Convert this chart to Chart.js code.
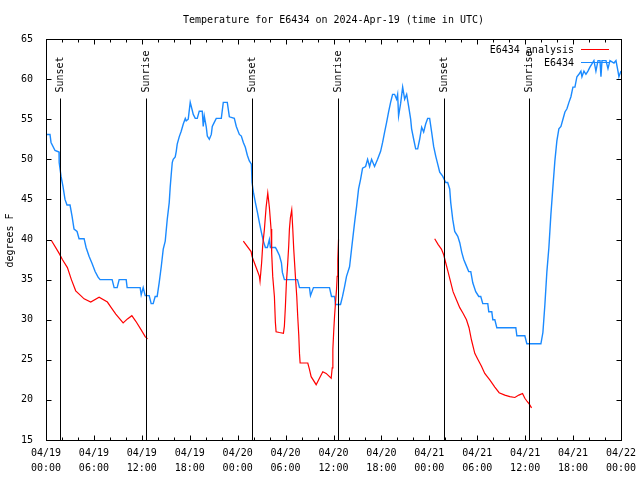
<!DOCTYPE html>
<html>
<head>
<meta charset="utf-8">
<title>Temperature for E6434</title>
<script src="https://cdn.jsdelivr.net/npm/chart.js@4.4.1/dist/chart.umd.min.js"></script>
<style>
  html, body { margin: 0; padding: 0; background: #fff; }
</style>
</head>
<body>
<canvas id="tempChart" width="640" height="480"></canvas>
<script>
const chartTitle = 'Temperature for E6434 on 2024-Apr-19 (time in UTC)';
const yAxisLabel = 'degrees F';
const dayLabels = ['04/19', '04/20', '04/21', '04/22'];
const legendNames = ['E6434 analysis', 'E6434'];

// hours since 04/19 00:00 UTC
const eventHours = [1.75, 12.52, 25.80, 36.56, 49.84, 60.48];
const eventNames = ['Sunset', 'Sunrise', 'Sunset', 'Sunrise', 'Sunset', 'Sunrise'];

// analysis (red), null = gap between runs
const analysisHours = [0.66, 1.63, 2.05, 2.68, 3.18, 3.72, 4.35, 4.77, 5.60, 6.65, 7.69, 8.10, 8.74, 9.66, 10.20, 10.75, 11.25, 11.88, 12.42, 12.71,
  18.0,
  24.71, 25.68, 25.80, 26.09, 26.50, 26.72, 26.80, 27.00, 27.13, 27.35, 27.56, 27.77, 27.97, 28.18, 28.26, 28.39, 28.60, 28.72, 28.81, 29.23,
  29.73, 29.85, 29.98, 30.10, 30.27, 30.39, 30.48, 30.60, 30.77, 30.90, 31.02, 31.23, 31.40, 31.52, 31.65, 31.74, 31.82, 32.78, 32.99, 33.20,
  33.83, 34.24, 34.66, 35.08, 35.71, 35.84, 35.92, 36.04, 36.13, 36.25, 36.38, 36.46, 36.54, 36.63,
  42.0,
  48.67, 49.09, 49.51, 49.80, 50.05, 50.34, 50.64, 50.97, 51.39, 51.81, 52.22, 52.65, 52.97, 53.27, 53.69, 54.10, 54.53, 54.94, 55.57, 56.20,
  56.74, 57.45, 58.08, 58.71, 59.21, 59.67, 59.96, 60.25, 60.50, 60.80];
const analysisTemps = [39.9, 38.3, 37.5, 36.5, 35.0, 33.6, 33.0, 32.6, 32.2, 32.8, 32.2, 31.6, 30.7, 29.6, 30.1, 30.5, 29.8, 28.8, 27.9, 27.6,
  null,
  39.8, 38.5, 37.9, 37.1, 36.0, 35.4, 34.8, 37.1, 39.2, 41.3, 44.0, 45.8, 44.0, 41.3, 38.3, 35.4, 32.9, 29.7, 28.5, 28.4,
  28.3, 29.2, 31.7, 34.6, 37.1, 39.2, 41.3, 42.7, 43.7, 41.3, 38.8, 35.4, 32.9, 30.4, 28.1, 25.8, 24.6, 24.6, 23.8, 22.9,
  21.9, 22.7, 23.5, 23.3, 22.7, 24.0, 26.3, 28.8, 30.4, 32.1, 33.8, 35.4, 37.5, 40.0,
  null,
  40.1, 39.4, 38.8, 38.1, 37.1, 36.0, 34.8, 33.5, 32.5, 31.5, 30.8, 30.0, 29.0, 27.5, 25.8, 25.0, 24.2, 23.3, 22.5, 21.6,
  20.9, 20.6, 20.4, 20.3, 20.6, 20.8, 20.2, 19.8, 19.5, 19.0];

// station observations (blue)
const stationHours = [0.00, 0.50, 0.63, 1.13, 1.63, 1.65, 1.88, 2.13, 2.38, 2.63, 3.01, 3.26, 3.51, 3.89, 4.14, 4.77, 5.02, 5.39, 5.77, 6.15,
  6.52, 6.77, 8.28, 8.53, 8.91, 9.16, 10.04, 10.16, 11.79, 11.92, 12.17, 12.42, 12.92, 13.17, 13.42, 13.67, 13.92, 14.17, 14.43, 14.68,
  14.93, 15.18, 15.43, 15.55, 15.68, 15.81, 15.93, 16.18, 16.31, 16.43, 16.68, 16.93, 17.19, 17.44, 17.56, 17.81, 18.06, 18.19, 18.44, 18.69,
  18.94, 19.19, 19.57, 19.69, 19.82, 20.07, 20.20, 20.45, 20.70, 20.82, 21.07, 21.32, 21.95, 22.20, 22.70, 22.96, 23.58, 23.83, 24.21, 24.46,
  24.71, 24.96, 25.21, 25.46, 25.72, 25.80, 25.97, 26.22, 26.47, 26.72, 26.97, 27.22, 27.47, 27.72, 27.97, 28.10, 28.73, 28.85, 29.23, 29.48,
  29.60, 29.85, 31.49, 31.74, 32.99, 33.12, 33.49, 35.50, 35.75, 36.13, 36.25, 36.88, 37.13, 37.38, 37.63, 38.01, 38.26, 38.64, 38.89, 39.14,
  39.39, 39.64, 40.02, 40.27, 40.52, 40.77, 41.14, 41.52, 41.90, 42.15, 42.40, 42.65, 42.90, 43.15, 43.40, 43.65, 43.90, 44.03, 44.15, 44.41,
  44.66, 44.91, 45.16, 45.41, 45.66, 45.78, 46.04, 46.29, 46.54, 46.79, 47.04, 47.29, 47.54, 47.79, 48.04, 48.29, 48.54, 48.80, 49.05, 49.30,
  49.67, 50.05, 50.30, 50.55, 50.68, 50.93, 51.18, 51.56, 51.81, 52.06, 52.31, 52.56, 52.93, 53.19, 53.44, 53.81, 54.19, 54.44, 54.69, 55.32,
  55.44, 55.82, 55.95, 56.20, 56.45, 58.83, 58.96, 59.96, 60.21, 61.97, 62.22, 62.47, 62.72, 62.97, 63.22, 63.47, 63.72, 63.97, 64.22, 64.48,
  64.73, 64.98, 65.23, 65.48, 65.73, 65.98, 66.23, 66.48, 66.73, 66.98, 67.11, 67.36, 67.61, 67.86, 68.11, 68.36, 68.61, 68.86, 69.12, 69.37,
  69.49, 69.62, 70.12, 70.37, 70.62, 71.12, 71.37, 71.62, 71.74, 72.00];
const stationTemps = [53.1, 53.1, 52.1, 51.1, 50.9, 49.6, 47.9, 46.6, 45.0, 44.3, 44.3, 42.9, 41.3, 41.0, 40.1, 40.1, 39.0, 37.9, 37.0, 36.0,
  35.3, 35.0, 35.0, 34.0, 34.0, 35.0, 35.0, 34.0, 34.0, 33.1, 34.0, 33.0, 33.0, 32.0, 32.0, 32.9, 32.9, 34.6, 36.6, 38.8,
  39.8, 42.5, 44.6, 46.5, 48.1, 49.6, 50.0, 50.3, 51.0, 51.9, 52.8, 53.5, 54.4, 55.1, 54.8, 55.0, 57.1, 56.6, 55.6, 55.1,
  55.1, 56.0, 56.0, 54.1, 55.4, 54.0, 52.9, 52.5, 53.1, 54.1, 54.6, 55.1, 55.1, 57.1, 57.1, 55.3, 55.1, 54.1, 53.1, 52.9,
  52.1, 51.5, 50.5, 49.8, 49.4, 47.1, 45.9, 44.6, 43.4, 42.1, 40.9, 39.8, 39.0, 39.0, 40.0, 39.0, 39.0, 38.8, 38.0, 37.1,
  35.9, 35.0, 35.0, 34.0, 34.0, 33.0, 34.0, 34.0, 32.9, 32.9, 31.9, 31.9, 32.9, 34.1, 35.4, 36.6, 38.8, 42.1, 44.1, 46.3,
  47.5, 48.9, 49.1, 50.0, 49.1, 50.0, 49.1, 50.0, 51.0, 52.1, 53.4, 54.6, 55.9, 57.1, 58.1, 58.1, 57.5, 58.1, 55.4, 57.0,
  59.0, 57.5, 58.1, 56.6, 55.0, 53.8, 52.5, 51.3, 51.3, 52.5, 54.0, 53.4, 54.4, 55.1, 55.1, 53.4, 51.6, 50.4, 49.4, 48.4,
  47.9, 47.1, 47.1, 46.3, 44.6, 42.5, 41.0, 40.4, 39.6, 38.4, 37.5, 36.9, 36.0, 36.0, 34.6, 33.5, 32.9, 32.9, 32.0, 32.0,
  31.0, 31.0, 30.0, 30.0, 29.0, 29.0, 28.0, 28.0, 27.0, 27.0, 28.4, 31.9, 36.0, 39.0, 43.1, 46.5, 49.8, 52.3, 53.8, 54.1,
  55.0, 55.9, 56.3, 57.1, 57.8, 59.0, 59.0, 60.3, 60.6, 61.0, 60.3, 61.0, 60.6, 61.0, 61.5, 61.9, 62.3, 61.0, 62.3, 62.3,
  60.3, 62.3, 62.3, 61.3, 62.3, 62.0, 62.3, 61.0, 60.3, 61.0];

const RED = '#ff0000';
const BLUE = '#1a8aff';
const FONT = '10px "DejaVu Sans Mono", "Liberation Mono", monospace';

function toPoints(xs, ys) {
    return xs.map((x, i) => ({ x: x, y: ys[i] }));
}

// gnuplot style frame, ticks, title, legend and sunrise/sunset markers
const gnuplotDecor = {
    id: 'gnuplotDecor',
    afterDatasetsDraw(chart) {
        const ctx = chart.ctx;
        const a = chart.chartArea;
        const xs = chart.scales.x;
        const ys = chart.scales.y;
        const L = Math.round(a.left) + 0.5, R = Math.round(a.right) + 0.5;
        const T = Math.round(a.top) + 0.5, B = Math.round(a.bottom) + 0.5;
        ctx.save();
        ctx.strokeStyle = '#000';
        ctx.fillStyle = '#000';
        ctx.lineWidth = 1;
        ctx.font = FONT;

        // sunrise / sunset lines
        eventHours.forEach((h, i) => {
            const px = Math.round(xs.getPixelForValue(h)) + 0.5;
            ctx.beginPath();
            ctx.moveTo(px, T + 59);
            ctx.lineTo(px, B);
            ctx.stroke();
            ctx.save();
            ctx.translate(px, T + 53);
            ctx.rotate(-Math.PI / 2);
            ctx.textAlign = 'left';
            ctx.textBaseline = 'middle';
            ctx.fillText(eventNames[i], 0, 0);
            ctx.restore();
        });

        // frame
        ctx.strokeRect(L, T, R - L, B - T);

        // x ticks: major every 6 h, minor every 2 h
        ctx.beginPath();
        for (let h = 0; h <= 72; h += 2) {
            const px = Math.round(xs.getPixelForValue(h)) + 0.5;
            const len = h % 6 === 0 ? 5 : 3;
            ctx.moveTo(px, B); ctx.lineTo(px, B - len);
            ctx.moveTo(px, T); ctx.lineTo(px, T + len);
        }
        // y ticks
        for (let v = 15; v <= 65; v += 5) {
            const py = Math.round(ys.getPixelForValue(v)) + 0.5;
            ctx.moveTo(L, py); ctx.lineTo(L + 5, py);
            ctx.moveTo(R, py); ctx.lineTo(R - 5, py);
        }
        ctx.stroke();

        // title
        ctx.textAlign = 'center';
        ctx.textBaseline = 'middle';
        ctx.fillText(chartTitle, (a.left + a.right) / 2, 20);

        // y axis label
        ctx.save();
        ctx.translate(10, (a.top + a.bottom) / 2 + 1);
        ctx.rotate(-Math.PI / 2);
        ctx.fillText(yAxisLabel, 0, 0);
        ctx.restore();

        // legend
        const colors = [RED, BLUE];
        legendNames.forEach((name, i) => {
            const ly = 50 + i * 13;
            ctx.fillStyle = '#000';
            ctx.textAlign = 'right';
            ctx.fillText(name, 574, ly);
            ctx.strokeStyle = colors[i];
            ctx.beginPath();
            ctx.moveTo(581, ly - 0.5);
            ctx.lineTo(609, ly - 0.5);
            ctx.stroke();
        });
        ctx.restore();
    }
};

const ctx = document.getElementById('tempChart');
new Chart(ctx, {
    type: 'line',
    data: {
        datasets: [
            {
                label: legendNames[0],
                data: toPoints(analysisHours, analysisTemps),
                borderColor: RED,
                borderWidth: 1.2,
                pointRadius: 0,
                spanGaps: false,
                tension: 0
            },
            {
                label: legendNames[1],
                data: toPoints(stationHours, stationTemps),
                borderColor: BLUE,
                borderWidth: 1.4,
                pointRadius: 0,
                tension: 0
            }
        ]
    },
    options: {
        responsive: false,
        animation: false,
        devicePixelRatio: 1,
        layout: { padding: { top: 39, right: 19, left: 0, bottom: 0 } },
        plugins: {
            legend: { display: false },
            tooltip: { enabled: false }
        },
        scales: {
            x: {
                type: 'linear',
                min: 0,
                max: 72,
                grid: { display: false },
                border: { display: false },
                afterFit: s => { s.height = 40; },
                ticks: {
                    stepSize: 6,
                    autoSkip: false,
                    maxRotation: 0,
                    padding: -2,
                    color: '#000',
                    font: { family: '"DejaVu Sans Mono", monospace', size: 10, lineHeight: 1.5 },
                    callback: v => {
                        const hh = v % 24;
                        return [dayLabels[Math.floor(v / 24)], (hh < 10 ? '0' : '') + hh + ':00'];
                    }
                }
            },
            y: {
                min: 15,
                max: 65,
                grid: { display: false },
                border: { display: false },
                afterFit: s => { s.width = 46; },
                ticks: {
                    stepSize: 5,
                    padding: 5,
                    color: '#000',
                    font: { family: '"DejaVu Sans Mono", monospace', size: 10 }
                }
            }
        }
    },
    plugins: [gnuplotDecor]
});
</script>
</body>
</html>
